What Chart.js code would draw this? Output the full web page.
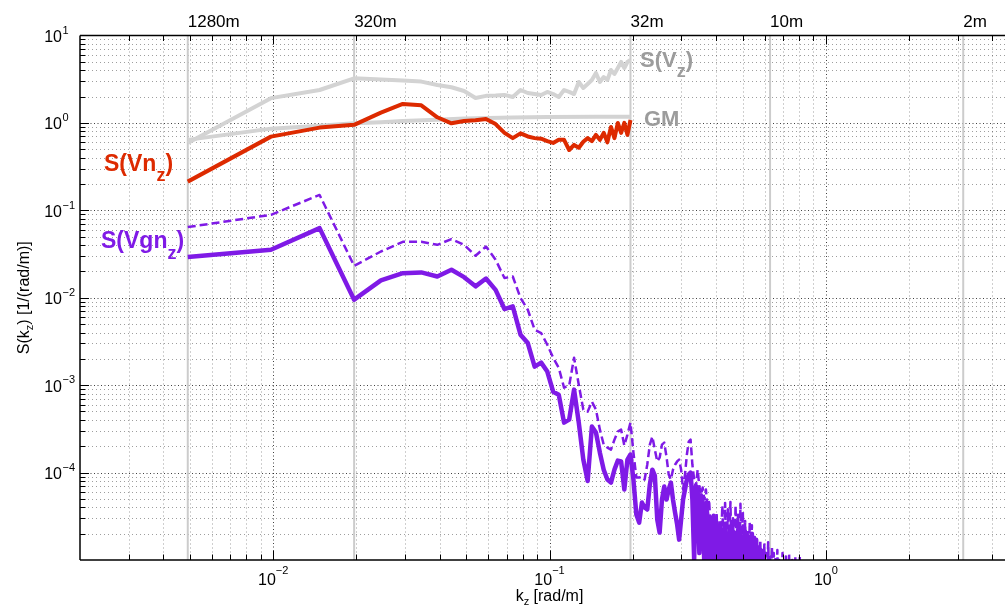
<!DOCTYPE html>
<html>
<head>
<meta charset="utf-8">
<style>
html,body{margin:0;padding:0;overflow:hidden;background:#fff;width:1005px;height:607px}
canvas{display:block}
</style>
<script src="https://cdn.jsdelivr.net/npm/chart.js@4/dist/chart.umd.min.js"></script>
</head>
<body>
<canvas id="c" width="1019" height="607"></canvas>
<script>
// ---- data (k_n = n * 2*pi/1280 rad/m, n = 1, 2, 3, ...) ----
const modeStep = 2 * Math.PI / 1280;

const svzValues = [0.59, 1.92, 2.38, 3.24, 3.14, 3.06, 2.97, 2.72, 2.56, 2.32,
  1.93, 2.04, 2.06, 2.09, 1.98, 2.38, 2.20, 2.14, 2.09, 2.26,
  2.14, 1.98, 2.38, 2.26, 2.14, 2.94, 2.51, 2.79, 3.10, 3.73,
  2.94, 3.35, 3.10, 4.03, 3.63, 4.25, 4.98, 4.25, 4.98, 5.25];

const gmModes = [1, 2, 3, 4, 5, 6, 8, 10, 15, 20, 30, 40];
const gmValues = [0.64, 0.86, 0.93, 0.99, 1.02, 1.05, 1.09, 1.12, 1.15, 1.17, 1.18, 1.18];

const svnzValues = [0.213, 0.697, 0.884, 0.95, 1.31, 1.65, 1.59, 1.16, 0.99, 1.05,
  1.07, 1.11, 0.97, 0.77, 0.67, 0.76, 0.70, 0.67, 0.66, 0.62,
  0.59, 0.64, 0.64, 0.49, 0.56, 0.52, 0.61, 0.67, 0.62, 0.73,
  0.64, 0.77, 0.60, 0.90, 0.67, 1.0, 0.77, 1.0, 0.73, 1.08];

const svgnzValues = [0.0292, 0.0354, 0.0626, 0.0095, 0.0158, 0.0191, 0.0195, 0.0175, 0.0209, 0.0172,
  0.0135, 0.0166, 0.0123, 0.00743, 0.00796, 0.00378, 0.00303, 0.00163, 0.00181, 0.00143,
  0.000843, 0.000779, 0.000373, 0.000403, 0.000889, 0.000373, 0.000141, 0.00008, 0.000336, 0.000287,
  0.000169, 0.000108, 0.0000832, 0.0000769, 0.000108, 0.000137, 0.000134, 0.000064, 0.000141, 0.000161,
  0.0000832, 0.0000331, 0.0000268, 0.0000454, 0.0000398, 0.0000378, 0.0000729, 0.000108, 0.0000924, 0.000029,
  0.0000206, 0.0000491, 0.0000692, 0.0000491, 0.000064, 0.0000769, 0.0000491, 0.0000349, 0.0000255, 0.0000171,
  0.000029, 0.0000491, 0.000064, 0.0000832, 0.0000949, 0.0001, 0.0000491, 0.0000101, 0.00007, 0.000064,
  0.000012, 0.000055, 0.0000409, 0.000009, 0.000045, 0.0000314, 0.000008, 0.000029, 0.0000075, 0.000032,
  0.000006, 0.000026, 0.000012, 0.000024, 0.000005, 0.000022, 0.000009, 0.000026, 0.000005, 0.000020,
  0.000006, 0.000024, 0.000007, 0.000021, 0.000005, 0.000019, 0.000006, 0.000022, 0.000006, 0.000021,
  0.000005, 0.000018, 0.000005, 0.000021, 0.000006, 0.000019, 0.000005, 0.000017, 0.000004, 0.000020,
  0.000005, 0.000018, 0.000004, 0.000017, 0.000004, 0.000014, 0.000004, 0.000013, 0.000003, 0.000011,
  0.000003, 0.000008, 0.000002, 0.000009, 0.000002, 0.000005, 0.000002];

const svgnzDashedValues = [0.0643, 0.0889, 0.150, 0.0232, 0.0338, 0.0436, 0.0436, 0.0403, 0.0469, 0.0403,
  0.0302, 0.0386, 0.0272, 0.0168, 0.0175, 0.00993, 0.00729, 0.00431, 0.00395, 0.0029,
  0.00206, 0.00158, 0.000936, 0.000987, 0.00206, 0.00101, 0.000525, 0.000498, 0.000648, 0.000525,
  0.00031, 0.000209, 0.000193, 0.000183, 0.000238, 0.000294, 0.00031, 0.000204, 0.000272, 0.000373,
  0.000169, 0.0000877, 0.0000877, 0.00009, 0.0000832, 0.000123, 0.000209, 0.000258, 0.000183, 0.000134,
  0.000148, 0.000209, 0.00022, 0.000152, 0.0000949, 0.0000832, 0.000108, 0.000123, 0.000134, 0.000141,
  0.000108, 0.000064, 0.0000949, 0.000161, 0.000226, 0.000238, 0.000123, 0.0000832, 0.0000692, 0.000108,
  0.0000692, 0.0000561, 0.0000674, 0.0000491, 0.000064, 0.0000378, 0.0000491, 0.0000223, 0.0000314, 0.0000223,
  0.000012, 0.000035, 0.000009, 0.000028, 0.000015, 0.000042, 0.00001, 0.000045, 0.000008, 0.000038,
  0.000012, 0.000046, 0.000009, 0.00003, 0.000007, 0.000042, 0.000011, 0.000033, 0.000006, 0.000044,
  0.00001, 0.000036, 0.000007, 0.000028, 0.000009, 0.000022, 0.000005, 0.000027, 0.000008, 0.000025,
  0.000005, 0.000019, 0.000007, 0.000016, 0.000004, 0.000014, 0.000006, 0.000017, 0.000004, 0.000013,
  0.000005, 0.000015, 0.000004, 0.000012, 0.000006, 0.000016, 0.000004, 0.000011, 0.000005, 0.000014,
  0.000004, 0.000012, 0.000003, 0.000011, 0.000005, 0.000013, 0.000004, 0.00001, 0.000003, 0.000009,
  0.000004, 0.000012, 0.000003, 0.000008, 0.000004, 0.000011, 0.000003, 0.000009, 0.000004, 0.000012,
  0.000003, 0.000007, 0.000003, 0.00001, 0.000003, 0.000006, 0.000003, 0.000011, 0.000003, 0.000005,
  0.000002, 0.000009, 0.000003, 0.000011, 0.000002];

const topWavelengths = [1280, 320, 32, 10, 2];
const topLabels = ['1280m', '320m', '32m', '10m', '2m'];
const xTickExponents = [-2, -1, 0];
const yTickExponents = [1, 0, -1, -2, -3, -4];

// ---- helpers ----
const FF = '"Liberation Sans", Arial, Helvetica, sans-serif';
const toPoints = vals => vals.map((v, i) => ({ x: (i + 1) * modeStep, y: v }));

function rich(ctx, parts, x, y, align, color) {
  let w = 0;
  parts.forEach(p => { ctx.font = `${p[2]} ${p[1]}px ${FF}`; p.w = ctx.measureText(p[0]).width; w += p.w; });
  let cx = align === 'center' ? x - w / 2 : align === 'right' ? x - w : x;
  ctx.fillStyle = color; ctx.textAlign = 'left'; ctx.textBaseline = 'alphabetic';
  parts.forEach(p => { ctx.font = `${p[2]} ${p[1]}px ${FF}`; ctx.fillText(p[0], cx, y + p[3]); cx += p.w; });
}
function seg(ctx, x1, y1, x2, y2) { ctx.beginPath(); ctx.moveTo(x1, y1); ctx.lineTo(x2, y2); ctx.stroke(); }

const decor = {
  id: 'decor',
  beforeDatasetsDraw(chart) {
    const { ctx, chartArea: a, scales: { x, y } } = chart;
    ctx.save();
    ctx.lineWidth = 1;
    // vertical grid
    for (let e = -3; e <= 0; e++) for (let m = 1; m <= 9; m++) {
      const v = m * Math.pow(10, e);
      if (v <= x.min * 1.001 || v >= x.max * 0.999) continue;
      const px = Math.round(x.getPixelForValue(v)) + 0.5;
      ctx.strokeStyle = m === 1 ? 'rgba(0,0,0,0.75)' : 'rgba(0,0,0,0.38)';
      ctx.setLineDash(m === 1 ? [1, 2.5] : [1, 3]);
      seg(ctx, px, a.top, px, a.bottom);
    }
    // horizontal grid
    for (let e = -5; e <= 0; e++) for (let m = 1; m <= 9; m++) {
      const v = m * Math.pow(10, e);
      if (v <= y.min * 1.001 || v >= y.max * 0.999) continue;
      const py = Math.round(y.getPixelForValue(v)) + 0.5;
      ctx.strokeStyle = m === 1 ? 'rgba(0,0,0,0.75)' : 'rgba(0,0,0,0.38)';
      ctx.setLineDash(m === 1 ? [1, 2.5] : [1, 3]);
      seg(ctx, a.left, py, a.right, py);
    }
    // wavelength reference lines
    ctx.setLineDash([]);
    ctx.strokeStyle = '#cccccc';
    ctx.lineWidth = 2;
    topWavelengths.forEach(L => {
      const px = x.getPixelForValue(2 * Math.PI / L);
      seg(ctx, px, a.top, px, a.bottom);
    });
    ctx.restore();
  },
  afterDatasetsDraw(chart) {
    const { ctx, chartArea: a, scales: { x, y } } = chart;
    ctx.save();
    ctx.setLineDash([]);
    ctx.strokeStyle = '#000';
    // ticks
    ctx.lineWidth = 1;
    for (let e = -3; e <= 0; e++) for (let m = 1; m <= 9; m++) {
      const v = m * Math.pow(10, e);
      if (v <= x.min * 1.001 || v >= x.max * 0.999) continue;
      const px = Math.round(x.getPixelForValue(v)) + 0.5;
      const len = m === 1 ? 9 : 5.5;
      seg(ctx, px, a.bottom, px, a.bottom - len);
      seg(ctx, px, a.top, px, a.top + len);
    }
    for (let e = -5; e <= 0; e++) for (let m = 1; m <= 9; m++) {
      const v = m * Math.pow(10, e);
      if (v <= y.min * 1.001 || v >= y.max * 0.999) continue;
      const py = Math.round(y.getPixelForValue(v)) + 0.5;
      const len = m === 1 ? 9 : 5.5;
      seg(ctx, a.left, py, a.left + len, py);
    }
    // axes box
    ctx.lineWidth = 1.5;
    seg(ctx, a.left, a.top, a.right, a.top);
    seg(ctx, a.left, a.bottom, a.right, a.bottom);
    seg(ctx, a.left, a.top, a.left, a.bottom);
    seg(ctx, a.right, a.top, a.right, a.bottom);

    // y tick labels
    yTickExponents.forEach(e => {
      const py = y.getPixelForValue(Math.pow(10, e));
      const ex = e < 0 ? '\u2212' + (-e) : String(e);
      rich(ctx, [['10', 16, 'normal', 0]], 62, py + 6.5, 'right', '#000');
      rich(ctx, [[ex, 11, 'normal', 0]], 62.5, py - 1.8, 'left', '#000');
    });
    // x tick labels
    xTickExponents.forEach(e => {
      const px = x.getPixelForValue(Math.pow(10, e));
      const ex = e < 0 ? '\u2212' + (-e) : String(e);
      rich(ctx, [['10', 16, 'normal', 0], [ex, 11, 'normal', -11]], px, 585, 'center', '#000');
    });
    // top wavelength labels
    topWavelengths.forEach((L, i) => {
      const px = x.getPixelForValue(2 * Math.PI / L);
      rich(ctx, [[topLabels[i], 17, 'normal', 0]], px, 27, 'left', '#000');
    });
    // axis titles
    rich(ctx, [['k', 16, 'normal', 0], ['z', 11, 'normal', 4], [' [rad/m]', 16, 'normal', 0]],
      (a.left + a.right) / 2, 601, 'center', '#000');
    ctx.save();
    ctx.translate(29, (a.top + a.bottom) / 2);
    ctx.rotate(-Math.PI / 2);
    rich(ctx, [['S(k', 16, 'normal', 0], ['z', 11, 'normal', 4], [') [1/(rad/m)]', 16, 'normal', 0]], 0, 0, 'center', '#000');
    ctx.restore();

    // series annotations
    rich(ctx, [['S(V', 22, 'bold', 0], ['z', 18, 'bold', 10], [')', 22, 'bold', 0]], 640, 66.5, 'left', '#9c9c9c');
    rich(ctx, [['GM', 22, 'bold', 0]], 644, 126, 'left', '#9c9c9c');
    rich(ctx, [['S(Vn', 23, 'bold', 0], ['z', 18, 'bold', 10], [')', 23, 'bold', 0]], 104, 170.5, 'left', '#dd2a00');
    rich(ctx, [['S(Vgn', 23, 'bold', 0], ['z', 18, 'bold', 11], [')', 23, 'bold', 0]], 101, 248.3, 'left', '#7f1ae6');
    ctx.restore();
  }
};

const purple = '#7f1ae6';
new Chart(document.getElementById('c').getContext('2d'), {
  type: 'line',
  data: {
    datasets: [
      { label: 'S(Vgn_z)', data: toPoints(svgnzValues), borderColor: purple, borderWidth: 4.5, clip: { left: 5, top: 5, right: 5, bottom: 0 } },
      { label: 'S(Vgn_z) dashed', data: toPoints(svgnzDashedValues), borderColor: purple, borderWidth: 2.5, borderDash: [8, 4], clip: { left: 5, top: 5, right: 5, bottom: 0 } },
      { label: 'S(Vn_z)', data: toPoints(svnzValues), borderColor: '#dd2a00', borderWidth: 4 },
      { label: 'GM', data: gmModes.map((n, i) => ({ x: n * modeStep, y: gmValues[i] })), borderColor: '#d3d3d3', borderWidth: 4 },
      { label: 'S(V_z)', data: toPoints(svzValues), borderColor: '#d3d3d3', borderWidth: 4 }
    ]
  },
  options: {
    responsive: false,
    animation: false,
    events: [],
    layout: { padding: { left: 80, right: 0, top: 35.5, bottom: 47 } },
    elements: {
      point: { radius: 0 },
      line: { tension: 0, borderJoinStyle: 'round', borderCapStyle: 'butt', fill: false }
    },
    scales: {
      x: { type: 'logarithmic', min: 0.002, max: 5, display: false },
      y: { type: 'logarithmic', min: 1e-5, max: 10, display: false }
    },
    plugins: { legend: { display: false }, tooltip: { enabled: false } }
  },
  plugins: [decor]
});
</script>
</body>
</html>
